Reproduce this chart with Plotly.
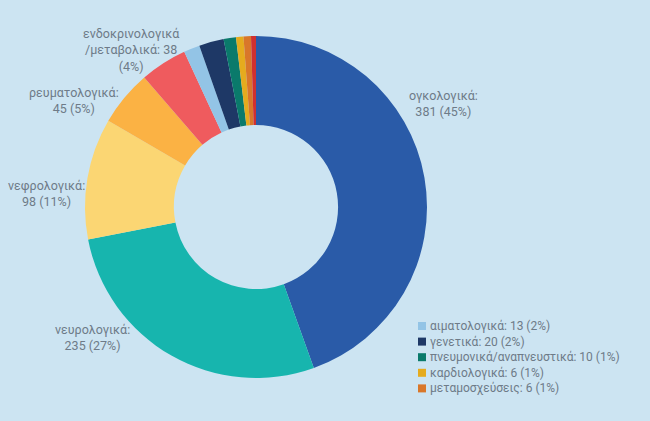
import plotly.graph_objects as go

# κατηγορίες και πλήθος (δεξιόστροφα από τις 12)
categories = ["ογκολογικά", "νευρολογικά", "νεφρολογικά", "ρευματολογικά",
              "ενδοκρινολογικά/μεταβολικά", "αιματολογικά", "γενετικά",
              "πνευμονικά/αναπνευστικά", "καρδιολογικά", "μεταμοσχεύσεις", "άλλα"]
counts = [381, 235, 98, 45, 38, 13, 20, 10, 6, 6, 4]
colors = ["#2a5ba8", "#17b5ae", "#fbd673", "#fbb244", "#ef5b5e", "#93c4e6",
          "#1e3866", "#0a7a6b", "#e5ab1e", "#d9772a", "#d0302f"]

# ετικέτες γύρω από τον δακτύλιο
outside_labels = ["ογκολογικά:<br>381 (45%)", "νευρολογικά:<br>235 (27%)",
                  "νεφρολογικά:<br>98 (11%)", "ρευματολογικά:<br>45 (5%)",
                  "ενδοκρινολογικά<br>/μεταβολικά: 38<br>(4%)"]
outside_pos = [(444, 104), (92, 337), (46, 193), (74, 100), (131, 50)]

# υπόμνημα για τα μικρά κομμάτια
legend_items = ["αιματολογικά: 13 (2%)", "γενετικά: 20 (2%)",
                "πνευμονικά/αναπνευστικά: 10 (1%)", "καρδιολογικά: 6 (1%)",
                "μεταμοσχεύσεις: 6 (1%)"]
legend_colors = colors[5:10]

W, H = 650, 421
BG = "#cce4f2"
TXT = "#6e7b88"

fig = go.Figure(go.Pie(
    labels=categories,
    values=counts,
    marker=dict(colors=colors, line=dict(width=0)),
    hole=0.48,
    sort=False,
    direction="clockwise",
    rotation=0,
    textinfo="none",
    hoverinfo="label+value+percent",
    domain=dict(x=[85 / W, 427 / W], y=[1 - 378 / H, 1 - 36 / H]),
    showlegend=False,
))

for txt, (px_, py_) in zip(outside_labels, outside_pos):
    fig.add_annotation(x=px_ / W, y=1 - py_ / H, xref="paper", yref="paper",
                       text=txt, showarrow=False, xanchor="center", yanchor="middle",
                       align="center", font=dict(size=12.5, color=TXT))

# κείμενο υπομνήματος σε ένα μπλοκ, τετράγωνα χρώματος ως σχήματα
fig.add_annotation(x=428 / W, y=1 - 357 / H, xref="paper", yref="paper",
                   text="<br>".join(legend_items), showarrow=False,
                   xanchor="left", yanchor="middle", align="left",
                   font=dict(size=12, color=TXT))
for i, c in enumerate(legend_colors):
    yc = 326 + i * 15.6
    fig.add_shape(type="rect", xref="paper", yref="paper",
                  x0=418 / W, x1=426 / W, y0=1 - (yc + 4) / H, y1=1 - (yc - 4) / H,
                  fillcolor=c, line=dict(width=0))

fig.update_layout(
    width=W, height=H,
    margin=dict(l=0, r=0, t=0, b=0),
    paper_bgcolor=BG, plot_bgcolor=BG,
    font=dict(family="Roboto, sans-serif", color=TXT),
)

fig.write_html("out.html", config={"displayModeBar": False},
               post_script="document.body.style.margin='0';")
